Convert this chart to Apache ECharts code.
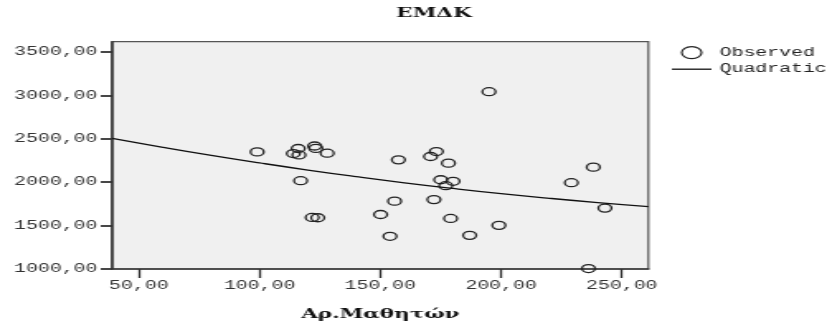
<!DOCTYPE html>
<html>
<head>
<meta charset="utf-8">
<script src="https://cdn.jsdelivr.net/npm/echarts@6/dist/echarts.min.js"></script>
<style>
html,body{margin:0;padding:0;background:#fff;overflow:hidden;width:827px;height:326px;}
#wrap{width:501px;height:326px;transform:scaleX(1.6507);transform-origin:0 0;}
#chart{width:501px;height:326px;}
</style>
</head>
<body>
<div id="wrap"><div id="chart"></div></div>
<script>
// Observed points (Αρ.Μαθητών, ΕΜΔΚ)
const observedX = [99.0, 114.0, 116.0, 116.3, 122.8, 123.3, 128.0, 117.0, 121.8, 124.1,
  150.1, 155.9, 157.5, 195.0, 170.8, 173.2, 178.2, 175.0, 180.1, 177.1,
  172.2, 179.1, 154.0, 187.0, 199.1, 238.2, 229.1, 243.0, 236.2];
const observedY = [2350, 2331, 2389, 2315, 2418, 2390, 2335, 2018, 1594, 1591,
  1628, 1782, 2258, 3044, 2297, 2354, 2220, 2029, 2011, 1960,
  1800, 1583, 1377, 1388, 1503, 2174, 1995, 1702, 1005];
// Quadratic fit curve
const fitX = [39, 60, 80, 100, 120, 140, 160, 180, 200, 220, 240, 261];
const fitY = [2506, 2403, 2310, 2223, 2141, 2065, 1994, 1929, 1869, 1815, 1766, 1720];
// Tick labels
const xTicks = [50, 100, 150, 200, 250];
const yTicks = [1000, 1500, 2000, 2500, 3000, 3500];

const fmt = v => v.toFixed(2).replace('.', ',');
const mono = 'Liberation Mono';
const serif = 'DejaVu Serif';

const chart = echarts.init(document.getElementById('chart'));
chart.setOption({
  animation: false,
  backgroundColor: '#fff',
  title: {
    text: 'ΕΜΔΚ', left: 240, top: 7, padding: 0,
    textStyle: {fontFamily: serif, fontWeight: 'bold', fontSize: 13, color: '#111'}
  },
  legend: {
    orient: 'vertical', left: 407, top: 46, padding: 0, itemGap: 4,
    itemWidth: 24, itemHeight: 12,
    textStyle: {fontFamily: mono, fontSize: 12, color: '#222'},
    data: [
      {name: 'Observed', icon: 'circle', itemStyle: {color: 'transparent', borderColor: '#222', borderWidth: 1.2}},
      {name: 'Quadratic', icon: 'path://M0,0 H24 V1.3 H0 Z', itemStyle: {color: '#111', borderWidth: 0}}
    ]
  },
  grid: {
    left: 68, top: 41.7, width: 324.8, height: 228.9,
    show: true, backgroundColor: '#f0f0f0', borderColor: '#555', borderWidth: 1.2
  },
  xAxis: {
    type: 'value', min: 39, max: 261,
    name: 'Αρ.Μαθητών', nameLocation: 'middle', nameGap: 39,
    nameTextStyle: {fontFamily: serif, fontWeight: 'bold', fontSize: 13, color: '#111'},
    axisLine: {lineStyle: {color: '#333', width: 1.5}},
    axisTick: {show: true, length: 9, lineStyle: {color: '#333', width: 1.3}, customValues: xTicks},
    axisLabel: {fontFamily: mono, fontSize: 12, color: '#333', margin: 11, formatter: fmt, customValues: xTicks},
    splitLine: {show: false}
  },
  yAxis: {
    type: 'value', min: 1000, max: 3620,
    axisLine: {show: true, lineStyle: {color: '#333', width: 1.5}},
    axisTick: {show: true, length: 7, lineStyle: {color: '#333', width: 1.8}, customValues: yTicks},
    axisLabel: {fontFamily: mono, fontSize: 12, color: '#333', margin: 9, formatter: fmt, customValues: yTicks},
    splitLine: {show: false}
  },
  series: [
    {
      name: 'Observed', type: 'scatter',
      symbol: 'circle', symbolSize: 8,
      itemStyle: {color: 'transparent', borderColor: '#222', borderWidth: 1.3, opacity: 1},
      data: observedX.map((x, i) => [x, observedY[i]])
    },
    {
      name: 'Quadratic', type: 'line', smooth: true, symbol: 'none', showSymbol: false,
      itemStyle: {color: '#111'},
      lineStyle: {color: '#111', width: 1.3},
      data: fitX.map((x, i) => [x, fitY[i]])
    }
  ]
});
</script>
</body>
</html>
